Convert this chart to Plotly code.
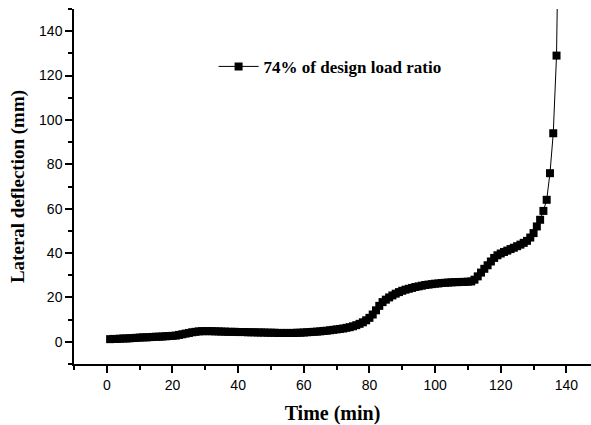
import plotly.graph_objects as go

time_min = list(range(1, 139))
deflection_mm = [
    1.2, 1.3, 1.3, 1.4, 1.5, 1.5, 1.6, 1.7, 1.8, 1.9,
    2.0, 2.0, 2.1, 2.2, 2.3, 2.3, 2.4, 2.5, 2.6, 2.7,
    2.8, 3.1, 3.4, 3.7, 4.0, 4.3, 4.5, 4.7, 4.8, 4.8,
    4.8, 4.8, 4.7, 4.7, 4.6, 4.6, 4.5, 4.5, 4.5, 4.4,
    4.4, 4.4, 4.3, 4.3, 4.3, 4.2, 4.2, 4.2, 4.1, 4.1,
    4.1, 4.0, 4.0, 4.0, 4.0, 4.0, 4.0, 4.1, 4.1, 4.2,
    4.3, 4.4, 4.5, 4.6, 4.7, 4.9, 5.0, 5.2, 5.4, 5.6,
    5.8, 6.0, 6.3, 6.6, 7.0, 7.5, 8.1, 8.8, 9.7, 10.8,
    12.3, 14.2, 16.2, 17.9, 19.0, 20.0, 20.9, 21.7, 22.4, 23.0,
    23.5, 23.9, 24.3, 24.7, 25.0, 25.3, 25.6, 25.8, 26.0, 26.2,
    26.3, 26.5, 26.6, 26.7, 26.8, 26.9, 26.9, 27.0, 27.0, 27.1,
    27.2, 28.0, 29.5, 31.2, 32.9, 34.5, 36.2, 37.8, 39.0, 39.8,
    40.5, 41.1, 41.8, 42.4, 43.1, 43.8, 44.6, 45.5, 47.0, 49.0,
    52.0, 55.0, 59.0, 64.0, 76.0, 94.0, 129.0, 230.0,
]
series_name = "74% of design load ratio"
x_ticks = [0, 20, 40, 60, 80, 100, 120, 140]
y_ticks = [0, 20, 40, 60, 80, 100, 120, 140]

fig = go.Figure()
fig.add_trace(go.Scatter(
    x=time_min, y=deflection_mm, mode="lines+markers", name=series_name,
    line=dict(color="black", width=1),
    marker=dict(symbol="square", size=8, color="black"),
    cliponaxis=True,
))

tickfont = dict(family="Liberation Sans, Arial", size=14, color="black")
titlefont_x = dict(family="Liberation Serif, Times New Roman", size=20, color="black")
titlefont_y = dict(family="Liberation Serif, Times New Roman", size=19, color="black")

fig.update_layout(
    width=591, height=425,
    margin=dict(l=74, r=0, t=9, b=61),
    plot_bgcolor="white", paper_bgcolor="white",
    showlegend=True,
    legend=dict(
        x=0.27, y=0.837, xanchor="left", yanchor="middle",
        itemwidth=40,
        bgcolor="rgba(0,0,0,0)", borderwidth=0,
        font=dict(family="Liberation Serif, Times New Roman", size=17, color="black", weight="bold"),
    ),
    xaxis=dict(
        range=[-10, 147.5], tickvals=x_ticks, ticks="outside", ticklen=7, tickwidth=1.5,
        tickcolor="black", showline=True, linecolor="black", linewidth=1.5,
        showgrid=False, zeroline=False, tickfont=tickfont,
        minor=dict(ticks="outside", ticklen=4, tickwidth=1.5, tickcolor="black", dtick=10, tick0=-10, showgrid=False),
        title=dict(text="<b>Time (min)</b>", font=titlefont_x, standoff=14),
    ),
    yaxis=dict(
        range=[-10, 150], tickvals=y_ticks, ticks="outside", ticklen=7, tickwidth=1.5,
        tickcolor="black", showline=True, linecolor="black", linewidth=1.5,
        showgrid=False, zeroline=False, tickfont=tickfont,
        minor=dict(ticks="outside", ticklen=4, tickwidth=1.5, tickcolor="black", dtick=10, tick0=-10, showgrid=False),
        title=dict(text="<b>Lateral deflection (mm)</b>", font=titlefont_y, standoff=9),
    ),
)

fig.write_html("out.html")
